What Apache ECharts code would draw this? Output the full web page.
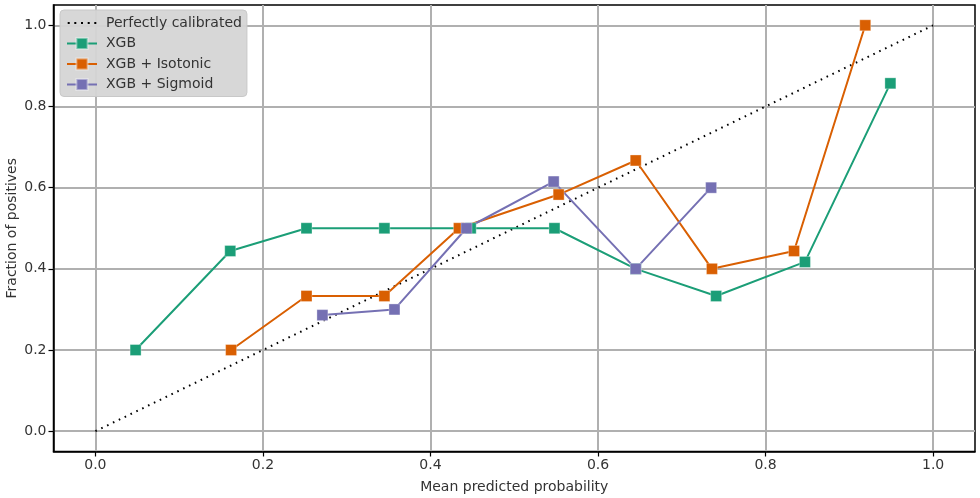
<!DOCTYPE html>
<html><head><meta charset="utf-8">
<script src="https://cdn.jsdelivr.net/npm/echarts@6/dist/echarts.min.js"></script>
<style>html,body{margin:0;padding:0;background:#fff}#c{width:980px;height:498px}</style>
</head><body><div id="c"></div>
<script>
const tickValues = [0.0, 0.2, 0.4, 0.6, 0.8, 1.0];
const perfect = [[0, 0], [1, 1]];
const xgbX = [0.048, 0.161, 0.252, 0.345, 0.448, 0.548, 0.645, 0.741, 0.847, 0.949];
const xgbY = [0.2, 0.444, 0.5, 0.5, 0.5, 0.5, 0.4, 0.333, 0.417, 0.857];
const isoX = [0.162, 0.252, 0.345, 0.434, 0.553, 0.645, 0.736, 0.834, 0.919];
const isoY = [0.2, 0.333, 0.333, 0.5, 0.583, 0.667, 0.4, 0.444, 1.0];
const sigX = [0.271, 0.357, 0.443, 0.547, 0.645, 0.735];
const sigY = [0.286, 0.3, 0.5, 0.615, 0.4, 0.6];
const zip = (a, b) => a.map((v, i) => [v, b[i]]);
const font = 'DejaVu Sans';
const chart = echarts.init(document.getElementById('c'));
const axisCommon = {
  type: 'value', min: -0.05, max: 1.05,
  axisLine: {show: true, onZero: false, lineStyle: {color: '#000', width: 1.5}},
  axisTick: {show: true, inside: false, length: 5, lineStyle: {color: '#000', width: 1.2}, customValues: tickValues},
  axisLabel: {color: '#333', fontFamily: font, fontSize: 14, margin: 7, customValues: tickValues, formatter: v => v.toFixed(1)},
  splitLine: {show: true, lineStyle: {color: '#b0b0b0', width: 2}},
  nameTextStyle: {color: '#333', fontFamily: font, fontSize: 14},
  nameLocation: 'middle', nameMoveOverlap: false
};
const mk = (name, data, color) => ({
  name, type: 'line', data, symbol: 'rect', symbolSize: 11,
  lineStyle: {color, width: 2}, itemStyle: {color, borderColor: 'rgba(255,255,255,0.4)', borderWidth: 0.8},
  emphasis: {disabled: true}, z: 3
});
// dotted legend icon (5 dots across a 30x14 box, plus invisible corner specks to fix the box)
const dotIcon = 'path://M0,0h0.01v0.01h-0.01z M29.99,13.99h0.01v0.01h-0.01z ' +
  'M0.7,6h2v2h-2z M7.3,6h2v2h-2z M14,6h2v2h-2z M20.7,6h2v2h-2z M27.3,6h2v2h-2z';
chart.setOption({
  animation: false,
  grid: {left: 53.5, right: 5, top: 5, bottom: 46.5, outerBoundsMode: 'none', containLabel: false,
         show: true, borderColor: '#000', borderWidth: 1.5, backgroundColor: 'transparent'},
  xAxis: Object.assign({}, axisCommon, {name: 'Mean predicted probability', nameGap: 29}),
  yAxis: Object.assign({}, axisCommon, {name: 'Fraction of positives', nameGap: 34}),
  legend: {
    left: 60, top: 10, orient: 'vertical', itemGap: 6.5, itemWidth: 30, itemHeight: 14,
    backgroundColor: 'rgba(213,213,213,0.95)', borderColor: '#c8c8c8', borderWidth: 1, borderRadius: 4,
    padding: [6, 5, 5, 6],
    textStyle: {color: '#333', fontFamily: font, fontSize: 14, padding: [0, 0, 0, 4]},
    data: [{name: 'Perfectly calibrated', icon: dotIcon}, 'XGB', 'XGB + Isotonic', 'XGB + Sigmoid']
  },
  series: [
    {name: 'Perfectly calibrated', type: 'line', data: perfect, symbol: 'none',
     lineStyle: {color: '#000', width: 2, type: [1.6, 4.9]}, itemStyle: {color: '#000'}, emphasis: {disabled: true}, z: 2},
    mk('XGB', zip(xgbX, xgbY), '#1b9e77'),
    mk('XGB + Isotonic', zip(isoX, isoY), '#d95f02'),
    mk('XGB + Sigmoid', zip(sigX, sigY), '#7570b3')
  ]
});
</script></body></html>
